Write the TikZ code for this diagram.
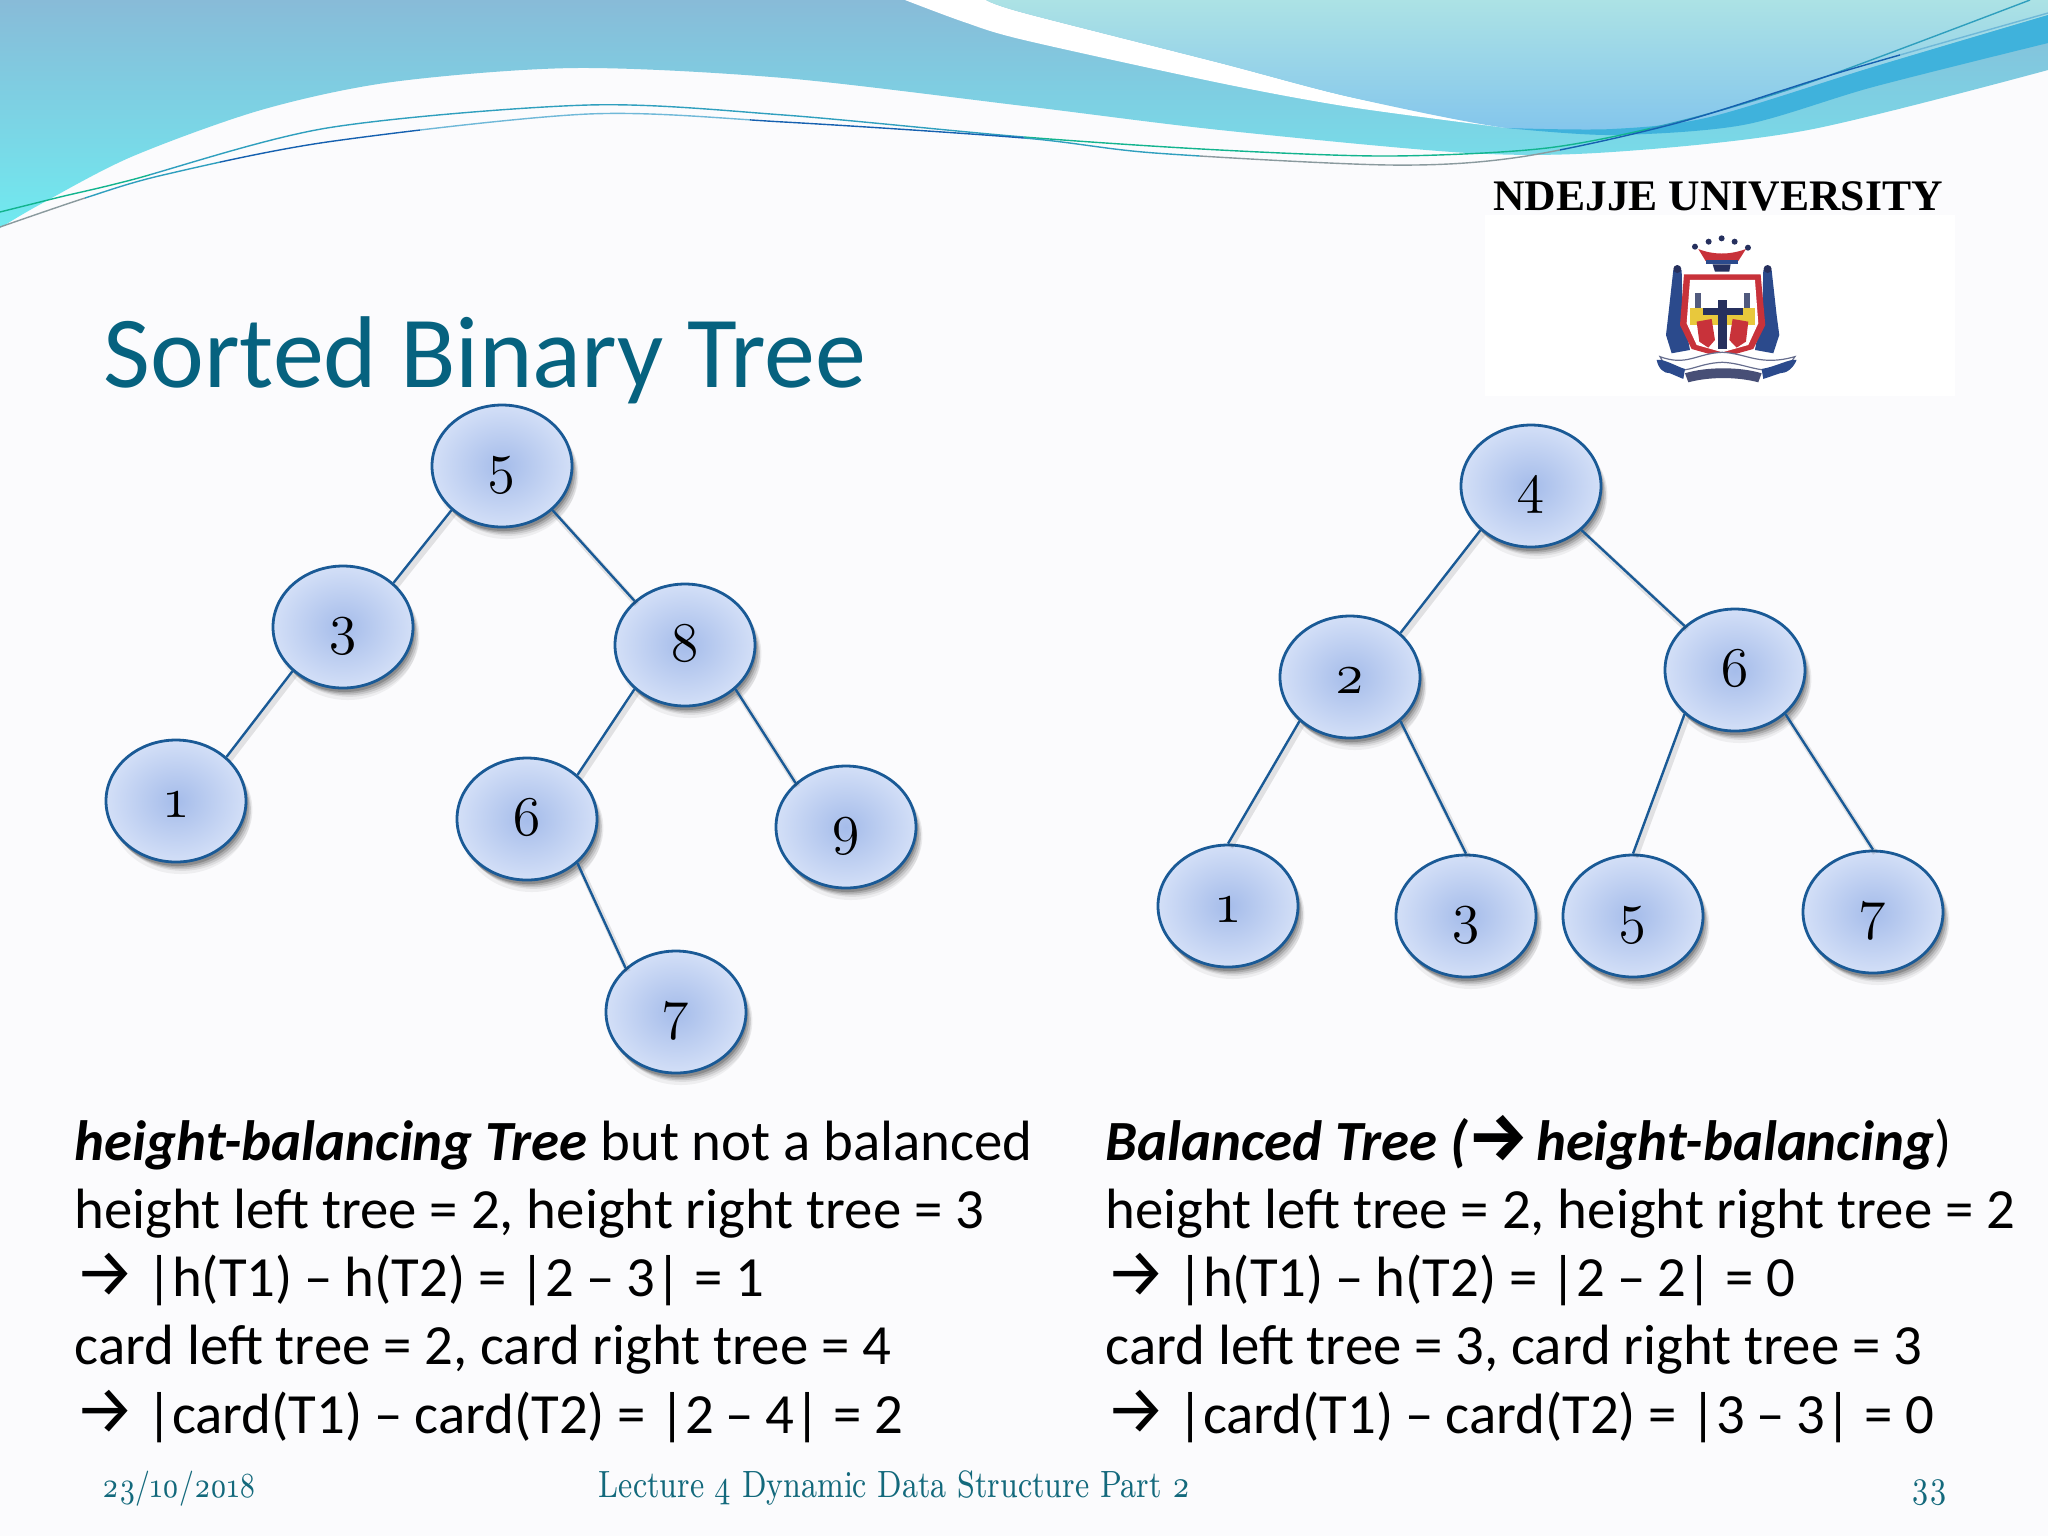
\documentclass[tikz,border=0pt]{standalone}
\usepackage{fontspec}
\usetikzlibrary{shapes.geometric,shadows}
\setmainfont{Carlito}
\newfontfamily\arrowfont{Fira Sans}
\newfontfamily\oldnumfont[Numbers=OldStyle]{Latin Modern Roman}
\newfontfamily\footfont[Numbers=OldStyle,FakeStretch=.82]{Latin Modern Roman}
\newfontfamily\logofont{Liberation Serif}
\definecolor{pagebg}{HTML}{FBFBFD}
\definecolor{titleteal}{HTML}{06627F}
\definecolor{footteal}{HTML}{13697C}
\definecolor{edgeblue}{HTML}{1A5A96}
\definecolor{nodecore}{HTML}{A5BCEA}
\definecolor{nodeedge}{HTML}{D3DFF7}
\definecolor{wavetop}{HTML}{88BBD8}
\definecolor{wavelow}{HTML}{70EAF0}
\definecolor{paletop}{HTML}{ACE2E5}
\definecolor{palelow}{HTML}{83C5EC}
\definecolor{banddark}{HTML}{3FB2DC}
\definecolor{linemid}{HTML}{2F9FBE}
\definecolor{linedeep}{HTML}{1560B0}
\definecolor{linelight}{HTML}{6FB8D8}
\definecolor{linegreen}{HTML}{12B48E}
\definecolor{linegray}{HTML}{8A9A9E}
\definecolor{crestred}{HTML}{C8323A}
\definecolor{crestblue}{HTML}{2B4A8C}
\definecolor{crestnavy}{HTML}{26305E}
\definecolor{crestgold}{HTML}{E8C83C}
\newcommand{\upperwire}{plot[smooth] coordinates {(0,212) (60,197) (131,180) (327,128) (588,105) (784,115) (1024,137) (1220,150) (1390,156) (1547,148) (1677,122) (1808,83) (2030,0)}}
\newcommand{\lowerwire}{plot[smooth] coordinates {(0,227) (85,198) (163,175) (327,142) (588,114) (784,122) (1024,138) (1155,153) (1390,165) (1520,157) (1677,123) (1841,72) (2048,13)}}
\newcommand{\rarrow}{\makebox[17.8pt][l]{\arrowfont\fontsize{17}{17}\selectfont →}}
\newcommand{\boldarrow}{\makebox[17.1pt][l]{\arrowfont\bfseries\itshape\fontsize{17}{17}\selectfont →}}
\newcommand{\shortdash}{\kern-.25pt–\kern-.25pt}
\tikzset{
  treenode/.style={ellipse,draw=edgeblue,line width=.7pt,inner sep=0pt,minimum width=35pt,minimum height=30.5pt,
    text height=8.4pt,text depth=0pt,
    inner color=nodecore,outer color=nodeedge,font=\oldnumfont\fontsize{14}{14}\selectfont,
    general shadow={shadow xshift=1.2pt,shadow yshift=-3pt,fill=black,opacity=.05},
    general shadow={shadow xshift=1.6pt,shadow yshift=-2.2pt,fill=black,opacity=.07},
    general shadow={shadow xshift=1.2pt,shadow yshift=-1.8pt,fill=black,opacity=.1},
    general shadow={shadow xshift=.8pt,shadow yshift=-1.4pt,fill=black,opacity=.14},
    general shadow={shadow xshift=.4pt,shadow yshift=-1pt,fill=black,opacity=.18}},
  treeedge/.style={edgeblue,line width=.6pt,
    preaction={draw=black,opacity=.1,line width=1.4pt,transform canvas={xshift=.6pt,yshift=-.9pt}}},
  bodyline/.style={anchor=base west,inner sep=0pt,font=\fontsize{14.2}{17}\selectfont},
  footline/.style={inner sep=0pt,text=footteal,font=\footfont\fontsize{9.5}{11}\selectfont},
  thinline/.style={line width=.35pt}
}
\begin{document}
\begin{tikzpicture}[x=.25pt,y=-.25pt]
\path[use as bounding box,fill=pagebg] (0,0) rectangle (2048,1536);
% waves at the top
\shade[top color=wavetop,bottom color=wavelow] (0,0) -- plot[smooth] coordinates {(0,228) (39,205) (131,157) (261,110) (392,82) (575,68) (784,78) (1024,106) (1220,130) (1468,153) (1612,152) (1808,130) (2048,70)} -- (2048,0) -- cycle;
\fill[white] plot[smooth] coordinates {(905,0) (964,22) (1024,40) (1220,83) (1350,107) (1507,128)} -- plot[smooth] coordinates {(1507,128) (1350,97) (1220,63) (1024,13) (986,0)} -- cycle;
\shade[top color=paletop,bottom color=palelow] plot[smooth] coordinates {(986,0) (1024,13) (1220,63) (1350,97) (1507,128) (1612,129) (1710,117) (1873,67) (2048,15)} -- (2048,0) -- cycle;
\fill[banddark] plot[smooth] coordinates {(1507,128) (1612,129) (1710,117) (1873,67) (2048,15)} -- plot[smooth] coordinates {(2048,43) (1873,87) (1743,125) (1612,135) (1507,128)} -- cycle;
% thin lines
\foreach \xa/\xb/\wirecol in {0/150/linegreen,150/1024/linemid,1024/1650/linegreen,1650/2048/linemid} {
  \begin{scope}
  \clip (\xa,-10) rectangle (\xb,300);
  \draw[thinline,\wirecol] \upperwire;
  \end{scope}
}
\foreach \xa/\xb/\wirecol in {0/85/linegray,85/220/linemid,220/420/linedeep,420/750/linelight,750/1024/linedeep,1024/1200/linemid,1200/1560/linegray,1560/1900/linedeep,1900/2048/linelight} {
  \begin{scope}
  \clip (\xa,-10) rectangle (\xb,300);
  \draw[thinline,\wirecol] \lowerwire;
  \end{scope}
}
% logo
\fill[white] (1485,215) rectangle (1955,396);
\node[inner sep=0pt,anchor=base,font=\logofont\bfseries\fontsize{10.9}{12}\selectfont] (logotext) at (1718,210) {NDEJJE UNIVERSITY};
% crest
\begin{scope}[shift={(1640,225)},x=.0833pt,y=-.0833pt]
\fill[crestblue] (100,135) -- (125,135) -- (128,260) -- (150,375) -- (95,385) -- (78,330) -- (85,270) -- cycle;
\fill[crestblue] (395,135) -- (370,135) -- (367,260) -- (345,375) -- (400,385) -- (418,330) -- (410,270) -- cycle;
\fill[crestnavy] (112,132) circle[radius=12];
\fill[crestnavy] (383,132) circle[radius=12];
\fill[crestred] (132,148) -- (362,148) -- (376,300) -- (340,372) -- (247,398) -- (155,372) -- (120,300) -- cycle;
\fill[white] (150,165) -- (345,165) -- (355,295) -- (325,360) -- (247,382) -- (170,360) -- (140,295) -- cycle;
\fill[crestgold] (150,250) rectangle (345,300);
\fill[crestred] (170,290) -- (215,282) -- (225,345) -- (205,368) -- (178,350) -- cycle;
\fill[crestred] (325,290) -- (278,282) -- (268,345) -- (290,368) -- (318,350) -- cycle;
\fill[crestnavy] (235,225) rectangle (260,372);
\fill[crestnavy] (190,250) rectangle (310,270);
\fill[crestnavy!80] (165,205) rectangle (182,250);
\fill[crestnavy!80] (312,205) rectangle (330,250);
\fill[crestred] (175,72) .. controls (220,90) and (270,90) .. (318,72) -- (295,108) -- (197,108) -- cycle;
\fill[crestblue] (197,104) rectangle (295,118);
\fill[crestnavy] (218,118) -- (272,118) -- (268,140) -- (225,140) -- cycle;
\foreach \crestx/\cresty in {165/65,206/50,245/40,284/50,324/68} {
  \fill[crestnavy] (\crestx,\cresty) circle[radius=9];
}
\fill[white,draw=crestnavy!70,line width=.3pt] (60,395) .. controls (140,425) and (170,385) .. (247,382) .. controls (320,385) and (360,425) .. (465,395) -- (440,430) .. controls (360,450) and (320,415) .. (247,412) .. controls (170,415) and (140,450) .. (80,430) -- cycle;
\fill[crestblue] (50,405) .. controls (70,400) and (110,425) .. (135,432) -- (130,462) -- (90,445) .. controls (70,445) and (55,430) .. cycle;
\fill[crestblue] (470,405) .. controls (450,400) and (410,425) .. (365,432) -- (370,462) -- (420,445) .. controls (440,445) and (460,430) .. cycle;
\fill[crestnavy!85] (135,445) .. controls (200,425) and (300,425) .. (365,445) -- (355,472) .. controls (290,455) and (210,455) .. (145,472) -- cycle;
\end{scope}
% title
\node[anchor=base west,inner sep=0pt,text=titleteal,font=\fontsize{25.5}{30}\selectfont] (title) at (103,387) {Sorted Binary Tree};
% left tree
\node[treenode] (aFive) at (502,466) {5};
\node[treenode] (aThree) at (343,627) {3};
\node[treenode] (aEight) at (685,645) {8};
\node[treenode] (aOne) at (176,801) {1};
\node[treenode] (aSix) at (527,819) {6};
\node[treenode] (aNine) at (846,827) {9};
\node[treenode] (aSeven) at (676,1012) {7};
\draw[treeedge] (aFive.south west) -- (aThree.north east);
\draw[treeedge] (aFive.south east) -- (aEight.north west);
\draw[treeedge] (aThree.south west) -- (aOne.north east);
\draw[treeedge] (aEight.south west) -- (aSix.north east);
\draw[treeedge] (aEight.south east) -- (aNine.north west);
\draw[treeedge] (aSix.south east) -- (aSeven.north west);
% right tree
\node[treenode] (bFour) at (1531,486) {4};
\node[treenode] (bTwo) at (1350,677) {2};
\node[treenode] (bSix) at (1735,670) {6};
\node[treenode] (bOne) at (1228,906) {1};
\node[treenode] (bThree) at (1466,916) {3};
\node[treenode] (bFive) at (1633,916) {5};
\node[treenode] (bSeven) at (1873,912) {7};
\draw[treeedge] (bFour.south west) -- (bTwo.north east);
\draw[treeedge] (bFour.south east) -- (bSix.north west);
\draw[treeedge] (bTwo.south west) -- (bOne.north);
\draw[treeedge] (bTwo.south east) -- (bThree.north);
\draw[treeedge] (bSix.south west) -- (bFive.north);
\draw[treeedge] (bSix.south east) -- (bSeven.north);
% text
\node[bodyline] (aLineA) at (74,1160) {\textbf{\textit{height-balancing Tree}} but not a balanced};
\node[bodyline] (aLineB) at (74,1228) {height left tree = 2, height right tree = 3};
\node[bodyline] (aLineC) at (74,1296) {\rarrow|h(T1) \shortdash{} h(T2) = |2 \shortdash{} 3| = 1};
\node[bodyline] (aLineD) at (74,1364) {card left tree = 2, card right tree = 4};
\node[bodyline] (aLineE) at (74,1433) {\rarrow|card(T1) \shortdash{} card(T2) = |2 \shortdash{} 4| = 2};
\node[bodyline] (bLineA) at (1105,1160) {\textbf{\textit{Balanced Tree (}}\boldarrow\textbf{\textit{height-balancing}})};
\node[bodyline] (bLineB) at (1105,1228) {height left tree = 2, height right tree = 2};
\node[bodyline] (bLineC) at (1105,1296) {\rarrow|h(T1) \shortdash{} h(T2) = |2 \shortdash{} 2| = 0};
\node[bodyline] (bLineD) at (1105,1364) {card left tree = 3, card right tree = 3};
\node[bodyline] (bLineE) at (1105,1433) {\rarrow|card(T1) \shortdash{} card(T2) = |3 \shortdash{} 3| = 0};
% footer
\node[footline,anchor=base west,font=\footfont\fontsize{8.8}{11}\selectfont] (dateText) at (102,1497) {23/10/2018};
\node[footline,anchor=base west] (footText) at (598,1497) {Lecture 4 Dynamic Data Structure Part 2};
\node[footline,anchor=base east] (pageText) at (1948,1497) {33};
\end{tikzpicture}
\end{document}
